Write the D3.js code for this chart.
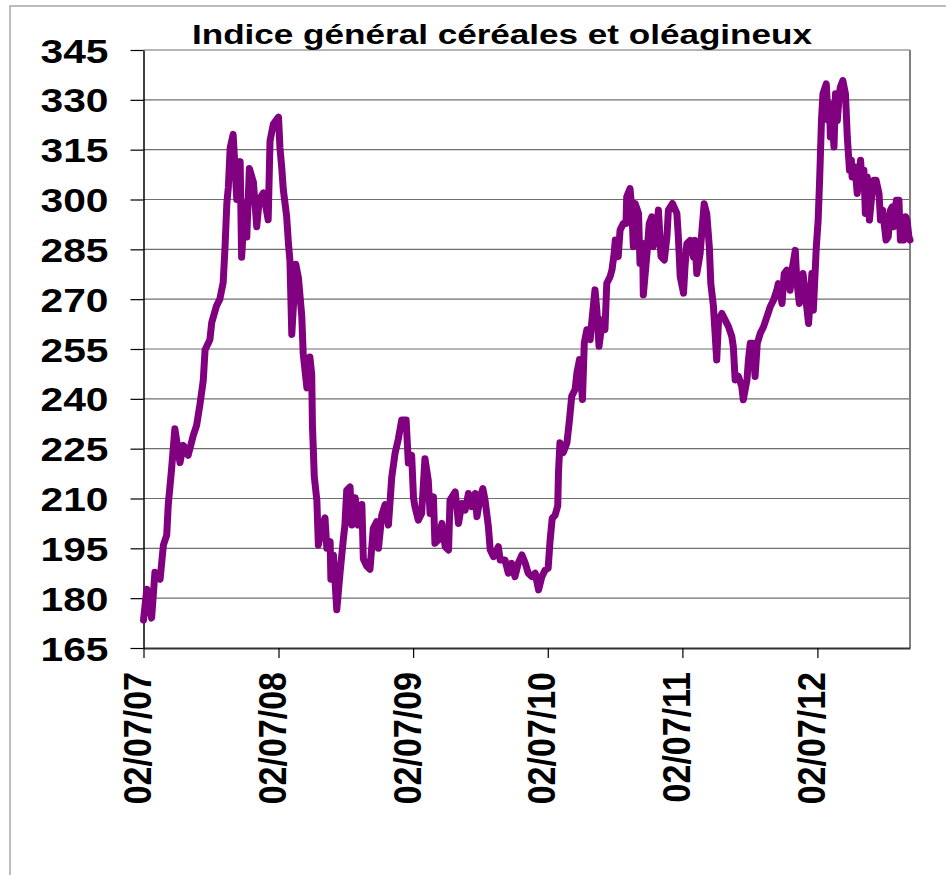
<!DOCTYPE html>
<html>
<head>
<meta charset="utf-8">
<script src="https://cdn.jsdelivr.net/npm/d3@7"></script>
<style>
    body { margin: 0; background: #fff; }
    text { font-family: Arial, "Liberation Sans", sans-serif; font-weight: bold; fill: #000; }
</style>
</head>
<body>
<div id="chart"></div>
<script>
const chartTitle = "Indice général céréales et oléagineux";
const startDate = "2007-07-02";
const endDate = "2013-03-10";
const yTicks = [165, 180, 195, 210, 225, 240, 255, 270, 285, 300, 315, 330, 345];
const xTickLabels = ["02/07/07", "02/07/08", "02/07/09", "02/07/10", "02/07/11", "02/07/12"];

// days since 02/07/2007
const days = [
    0, 9, 22, 31, 45, 54, 63, 67, 76, 85, 99, 108, 121, 135, 144, 153, 162, 167, 180, 185,
    198, 207, 216, 221, 226, 230, 235, 243, 253, 262, 266, 275, 280, 287, 298, 307, 314, 325, 338, 343,
    352, 366, 370, 375, 379, 388, 393, 397, 402, 413, 420, 429, 433, 443, 451, 456, 458, 463, 470, 474,
    483, 492, 497, 506, 508, 515, 524, 533, 542, 546, 551, 560, 565, 574, 582, 592, 596, 605, 614, 623,
    632, 637, 646, 655, 664, 673, 682, 691, 700, 712, 718, 727, 732, 736, 745, 754, 763, 772, 777, 786,
    790, 799, 809, 818, 827, 831, 845, 854, 863, 872, 881, 890, 899, 904, 912, 920, 926, 935, 940, 949,
    962, 967, 980, 989, 998, 1007, 1016, 1026, 1035, 1043, 1053, 1062, 1071, 1080, 1089, 1097, 1102, 1108, 1116, 1123,
    1125, 1129, 1138, 1148, 1154, 1161, 1170, 1175, 1182, 1190, 1195, 1202, 1211, 1215, 1224, 1229, 1235, 1244, 1251, 1256,
    1265, 1270, 1276, 1279, 1287, 1292, 1301, 1308, 1310, 1319, 1324, 1328, 1333, 1342, 1346, 1353, 1355, 1365, 1371, 1378,
    1382, 1389, 1396, 1403, 1412, 1419, 1423, 1434, 1446, 1450, 1455, 1464, 1468, 1473, 1482, 1491, 1495, 1500, 1509, 1514,
    1520, 1527, 1534, 1538, 1545, 1554, 1559, 1568, 1577, 1586, 1595, 1599, 1604, 1613, 1622, 1626, 1636, 1640, 1645, 1652,
    1658, 1664, 1672, 1681, 1690, 1699, 1708, 1717, 1721, 1731, 1737, 1744, 1753, 1758, 1767, 1771, 1778, 1788, 1794, 1803,
    1812, 1816, 1824, 1829, 1833, 1838, 1842, 1851, 1856, 1860, 1862, 1867, 1872, 1876, 1881, 1885, 1889, 1896, 1903, 1908,
    1914, 1919, 1921, 1929, 1935, 1944, 1948, 1953, 1957, 1962, 1968, 1974, 1980, 1986, 1994, 1998, 2004, 2010, 2013, 2019,
    2025, 2030, 2034, 2041, 2048, 2052, 2061, 2066, 2070, 2075, 2078
];

const values = [
    173.4, 182.7, 174, 187.8, 185.7, 196, 199, 208, 218.7, 231, 220.8, 226, 223, 229, 232, 238.3, 245.5, 254.8, 257.8, 263,
    268, 270, 275, 285.6, 299, 303.7, 315.5, 319.6, 300, 311.4, 282.6, 299, 288.7, 309.3, 305.2, 291.8, 300, 302, 293.9, 317.6,
    322.7, 324.8, 315.5, 309.3, 303, 295, 286.7, 281.5, 259.4, 280.5, 276.4, 265, 253.5, 243.3, 252.6, 247.4, 232, 216.6, 209.4, 196,
    201, 204.2, 195, 197, 185.7, 192.9, 176.5, 187.8, 198, 202, 212.5, 213.5, 202, 210.2, 202, 208.2, 191.8, 189.7, 188.7, 201,
    203, 195, 205, 208.2, 202, 216.4, 223.6, 228, 233.6, 233.6, 220.7, 223, 210.2, 207.5, 203.5, 205.5, 222, 215.5, 205.5, 210.5,
    196.5, 197.5, 202.5, 195.5, 194.5, 209.5, 212, 202.5, 208.5, 206.5, 211.5, 207.5, 211.5, 204.5, 210, 213, 209.5, 201.5, 194.5, 192.5,
    195.5, 191.5, 191.5, 187.5, 190.5, 186.5, 190.5, 193, 190.5, 187.5, 186.5, 187.5, 182.5, 186.5, 188.5, 189, 197, 204, 205, 207.8,
    217.8, 226.8, 223.8, 226.8, 232.8, 240.8, 242.8, 247.8, 251.8, 239.8, 256.8, 260.8, 257.8, 262.8, 272.8, 266.8, 255.8, 263.8, 260.8, 274.8,
    276.8, 278.8, 283.8, 287.8, 282.8, 290.8, 292.8, 292.8, 300.8, 303.3, 296.8, 285.8, 298.8, 295.8, 280.8, 286.8, 271.3, 283.8, 292.8, 294.8,
    285.8, 288.8, 296.8, 282.8, 281.8, 288.8, 296.8, 298.8, 295.8, 288.8, 276.8, 271.8, 279.7, 286.7, 287.7, 282.7, 287.7, 277.7, 283.7, 290.7,
    298.7, 295.7, 285.7, 274.7, 268, 251.7, 263.7, 265.7, 263.7, 261.7, 258.7, 255.7, 245.7, 246.7, 243.7, 239.7, 245.7, 251.7, 256.7, 256.7,
    246.7, 256.7, 259.7, 261.7, 264.7, 267.7, 269.7, 272.7, 274.7, 268.7, 277.7, 278.7, 272.7, 278.7, 284.7, 275.7, 268.7, 277.7, 271.7, 262.7,
    277.7, 266.7, 285.7, 293.8, 305.8, 323.8, 331.8, 334.8, 323.8, 328.8, 318.8, 322.8, 315.8, 331.8, 323.8, 329.8, 333.8, 335.8, 331.8, 318.8,
    308.8, 311.8, 306.8, 309.8, 301.8, 311.8, 304.8, 308.8, 295.8, 306.8, 293.8, 300.8, 305.8, 305.8, 301.8, 293.8, 296.8, 290.8, 287.8, 288.8,
    296.8, 297.8, 291.8, 299.8, 299.8, 287.8, 287.8, 294.8, 293.8, 288.8, 287.8
];

class IndexChart {

    constructor(width = 946, height = 875) {
        this.width = width;
        this.height = height;
        this.plot = { left: 143.5, right: 910, top: 50, bottom: 648 };
    }

    initialize(divChartId) {
        this.svg = d3.select(divChartId)
            .append("svg")
            .attr("width", this.width)
            .attr("height", this.height);
    }

    update() {
        const p = this.plot;
        const start = d3.timeParse("%Y-%m-%d")(startDate);
        const data = days.map((d, i) => ({ date: d3.timeDay.offset(start, d), value: values[i] }));

        const x = d3.scaleTime()
            .domain([start, d3.timeParse("%Y-%m-%d")(endDate)])
            .range([p.left, p.right]);

        const y = d3.scaleLinear()
            .domain([yTicks[0], yTicks[yTicks.length - 1]])
            .range([p.bottom, p.top]);

        // outer frame (only top and left visible)
        this.svg.append("path")
            .attr("d", `M10,${this.height} V6 H${this.width}`)
            .attr("fill", "none")
            .attr("stroke", "#a6a6a6")
            .attr("stroke-width", 1.5);

        // grid
        this.svg.append("g")
            .selectAll("line")
            .data(yTicks.slice(1))
            .enter()
            .append("line")
            .attr("x1", p.left)
            .attr("x2", p.right)
            .attr("y1", d => y(d))
            .attr("y2", d => y(d))
            .attr("stroke", "#6e6e6e")
            .attr("stroke-width", 1.2);

        // right border
        this.svg.append("line")
            .attr("x1", p.right).attr("x2", p.right)
            .attr("y1", p.top).attr("y2", p.bottom)
            .attr("stroke", "#808080")
            .attr("stroke-width", 2);

        const yAxis = this.svg.append("g")
            .attr("transform", `translate(${p.left},0)`)
            .call(d3.axisLeft(y).tickValues(yTicks).tickSize(13).tickSizeOuter(0));

        yAxis.select(".domain").attr("stroke", "#000").attr("stroke-width", 1.5);
        yAxis.selectAll(".tick line").attr("stroke", "#000").attr("stroke-width", 1.2);
        yAxis.selectAll("text")
            .attr("x", null)
            .attr("dy", null)
            .attr("text-anchor", "end")
            .style("font-size", "33px")
            .attr("transform", "translate(-35,12) scale(1.235,1)");

        const xAxis = this.svg.append("g")
            .attr("transform", `translate(0,${p.bottom})`)
            .call(d3.axisBottom(x)
                .tickValues(xTickLabels.map(d3.timeParse("%d/%m/%y")))
                .tickFormat(d3.timeFormat("%d/%m/%y"))
                .tickSize(10)
                .tickSizeOuter(0));

        xAxis.select(".domain").attr("stroke", "#333").attr("stroke-width", 2);
        xAxis.selectAll(".tick line").attr("stroke", "#000").attr("stroke-width", 1.2);
        xAxis.selectAll("text")
            .attr("y", null)
            .attr("dy", null)
            .attr("text-anchor", "end")
            .style("font-size", "34px")
            .attr("transform", "translate(7,24) scale(1.15,1) rotate(-90)");

        const line = d3.line()
            .x(d => x(d.date))
            .y(d => y(d.value));

        this.svg.append("path")
            .datum(data)
            .attr("d", line)
            .attr("fill", "none")
            .attr("stroke", "#800080")
            .attr("stroke-width", 7)
            .attr("stroke-linejoin", "round")
            .attr("stroke-linecap", "round");

        this.svg.append("text")
            .attr("x", 502)
            .attr("y", 44)
            .attr("text-anchor", "middle")
            .attr("textLength", 620)
            .attr("lengthAdjust", "spacingAndGlyphs")
            .style("font-size", "28px")
            .text(chartTitle);
    }
}

const chart = new IndexChart();
chart.initialize("#chart");
chart.update();
</script>
</body>
</html>
